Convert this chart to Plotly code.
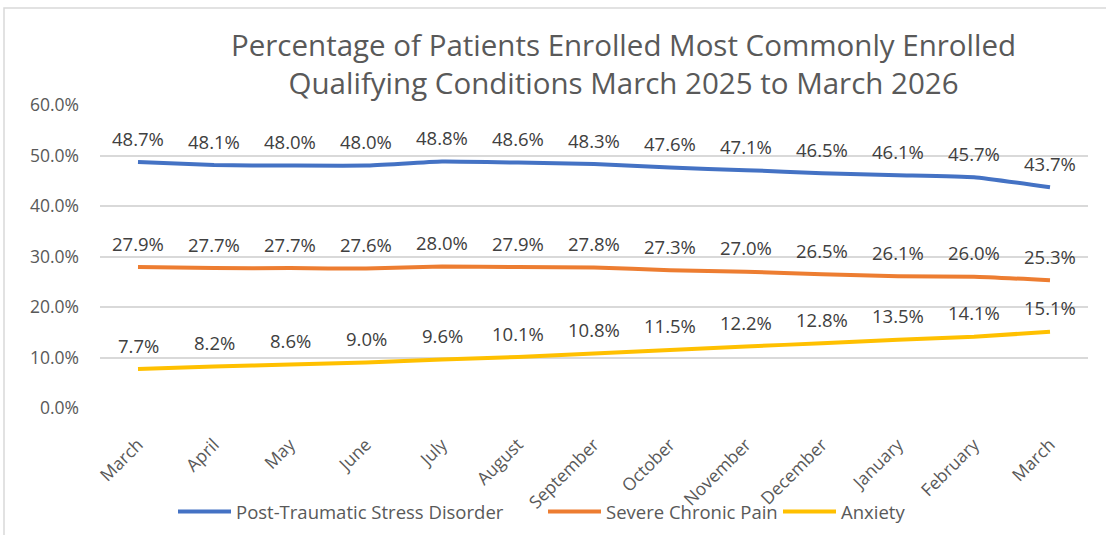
import plotly.graph_objects as go

months = ["March", "April", "May", "June", "July", "August", "September",
          "October", "November", "December", "January", "February", "March"]
ptsd = [48.7, 48.1, 48.0, 48.0, 48.8, 48.6, 48.3, 47.6, 47.1, 46.5, 46.1, 45.7, 43.7]
pain = [27.9, 27.7, 27.7, 27.6, 28.0, 27.9, 27.8, 27.3, 27.0, 26.5, 26.1, 26.0, 25.3]
anxiety = [7.7, 8.2, 8.6, 9.0, 9.6, 10.1, 10.8, 11.5, 12.2, 12.8, 13.5, 14.1, 15.1]
series_names = ["Post-Traumatic Stress Disorder", "Severe Chronic Pain", "Anxiety"]
colors = ["#4472C4", "#ED7D31", "#FFC000"]
title_text = ("Percentage of Patients Enrolled Most Commonly Enrolled<br>"
              "Qualifying Conditions March 2025 to March 2026")

FONT = "Open Sans"
x_idx = list(range(len(months)))

W, H = 1106, 535
L, R, T, B = 100, 18, 105, 127
pw, ph = W - L - R, H - T - B


def px_to_paper_x(px):
    return (px - L) / pw


def px_to_paper_y(py):
    return (H - B - py) / ph


legend_ids = ["legend", "legend2", "legend3"]
legend_px = [173, 543, 778]

fig = go.Figure()
annotations = []
for name, vals, col, lid in zip(series_names, [ptsd, pain, anxiety], colors, legend_ids):
    fig.add_trace(go.Scatter(
        x=x_idx, y=[v / 100 for v in vals], mode="lines", name=name,
        line=dict(color=col, width=4, shape="spline", smoothing=0.4),
        hoverinfo="skip", legend=lid,
    ))
    for xi, v in zip(x_idx, vals):
        annotations.append(dict(
            x=xi, y=v / 100, xref="x", yref="y", text=f"{v:.1f}%",
            showarrow=False, yshift=24,
            font=dict(family=FONT, size=18.5, color="#404040"),
        ))

annotations.append(dict(
    x=px_to_paper_x(623), y=px_to_paper_y(63), xref="paper", yref="paper",
    text=title_text, showarrow=False, xanchor="center", yanchor="middle",
    font=dict(family=FONT, size=29.5, color="#595959"),
))

legend_common = dict(
    orientation="h", yanchor="middle", y=px_to_paper_y(512),
    xanchor="left", font=dict(family=FONT, size=18.5, color="#595959"),
    bgcolor="rgba(0,0,0,0)", itemwidth=53,
)

fig.update_layout(
    width=W, height=H,
    margin=dict(l=L, r=R, t=T, b=B, autoexpand=False),
    paper_bgcolor="white", plot_bgcolor="white",
    font=dict(family=FONT, color="#595959"),
    showlegend=True,
    legend=dict(x=px_to_paper_x(legend_px[0]), **legend_common),
    legend2=dict(x=px_to_paper_x(legend_px[1]), **legend_common),
    legend3=dict(x=px_to_paper_x(legend_px[2]), **legend_common),
    annotations=annotations,
    shapes=[dict(
        type="rect", xref="paper", yref="paper",
        x0=px_to_paper_x(4), x1=px_to_paper_x(1115),
        y0=px_to_paper_y(545), y1=px_to_paper_y(8),
        line=dict(color="#D9D9D9", width=1.5), fillcolor="rgba(0,0,0,0)",
        layer="below",
    )],
)

fig.update_xaxes(
    tickmode="array", tickvals=x_idx, ticktext=months,
    range=[-0.5, len(months) - 0.5],
    tickangle=-45, showgrid=False, zeroline=False, showline=False,
    tickfont=dict(family=FONT, size=17.5, color="#595959"),
    ticklabelstandoff=22, automargin=False,
)
fig.update_yaxes(
    range=[0, 0.6], tickvals=[0, 0.1, 0.2, 0.3, 0.4, 0.5, 0.6],
    tickformat=".1%", showgrid=True, gridcolor="#D9D9D9", gridwidth=1.5,
    zeroline=False, showline=False,
    tickfont=dict(family=FONT, size=17.5, color="#595959"),
    ticklabelstandoff=20, automargin=False,
)

fig.write_html("out.html", config={"displayModeBar": False},
               post_script="document.body.style.margin='0';")
